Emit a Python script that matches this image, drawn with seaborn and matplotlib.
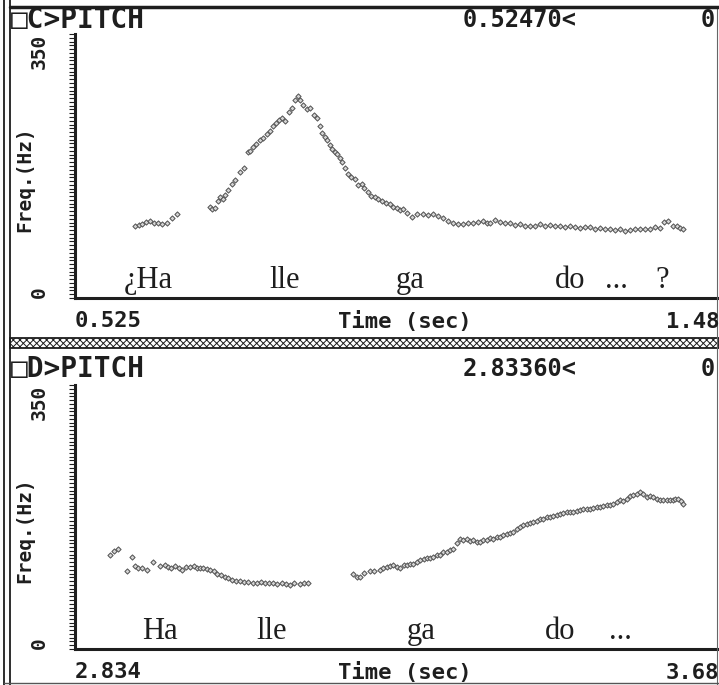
# Pitch tracks for "¿Ha llegado ...?" (C) and "Ha llegado ..." (D)
import pandas as pd
import matplotlib.pyplot as plt
import seaborn as sns
from matplotlib.ticker import MultipleLocator
from matplotlib.patches import Rectangle
from matplotlib.lines import Line2D

# ---------------------------------------------------------------- data
c_time = [0.612, 0.618, 0.622, 0.628, 0.634, 0.640, 0.646, 0.652, 0.659, 0.666, 0.673,
          0.721, 0.725, 0.729, 0.733, 0.736, 0.740, 0.743, 0.748, 0.753, 0.758, 0.765,
          0.771, 0.777, 0.780, 0.784, 0.789, 0.794, 0.799, 0.804, 0.808, 0.813, 0.818,
          0.822, 0.826, 0.830, 0.836, 0.841, 0.845, 0.849, 0.853, 0.857, 0.862, 0.867,
          0.872, 0.877, 0.881, 0.884, 0.888, 0.892, 0.896, 0.899, 0.903, 0.906, 0.910,
          0.913, 0.918, 0.922, 0.927, 0.932, 0.937, 0.942, 0.946, 0.951, 0.956, 0.961,
          0.966, 0.972, 0.977, 0.983, 0.988, 0.993, 0.998, 1.002, 1.008, 1.015, 1.022,
          1.031, 1.038, 1.046, 1.053, 1.060, 1.068, 1.075, 1.082, 1.089, 1.096, 1.104,
          1.111, 1.118, 1.124, 1.129, 1.136, 1.143, 1.150, 1.158, 1.165, 1.172, 1.180,
          1.187, 1.194, 1.201, 1.208, 1.216, 1.223, 1.230, 1.238, 1.245, 1.252, 1.260,
          1.267, 1.274, 1.281, 1.289, 1.296, 1.303, 1.310, 1.318, 1.325, 1.332, 1.340,
          1.347, 1.354, 1.361, 1.368, 1.376, 1.382, 1.388, 1.395, 1.401, 1.405, 1.409]
c_hz = [95, 97, 98, 101, 102, 100, 99, 98, 99, 106, 111,
        121, 118, 119, 128, 134, 131, 137, 143, 151, 156, 167,
        172, 193, 195, 200, 204, 209, 212, 217, 222, 228, 232,
        236, 239, 235, 246, 252, 262, 268, 262, 256, 251, 252,
        243, 239, 228, 219, 214, 210, 203, 198, 193, 191, 185,
        180, 172, 165, 160, 158, 150, 151, 146, 141, 135, 134,
        131, 128, 126, 124, 121, 119, 117, 118, 113, 108, 111,
        111, 110, 111, 109, 106, 102, 99, 98, 98, 100, 99,
        101, 102, 100, 99, 103, 101, 100, 99, 97, 98, 96,
        95, 96, 98, 96, 97, 95, 95, 94, 95, 94, 93,
        94, 94, 92, 93, 92, 91, 90, 91, 89, 90, 91,
        91, 92, 92, 94, 93, 101, 102, 96, 95, 93, 91]

d_time = [2.879, 2.884, 2.889, 2.901, 2.907, 2.912, 2.915, 2.921, 2.927, 2.935, 2.944,
          2.950, 2.954, 2.958, 2.963, 2.968, 2.972, 2.977, 2.982, 2.987, 2.991, 2.995,
          2.999, 3.004, 3.008, 3.013, 3.017, 3.022, 3.027, 3.031, 3.036, 3.042, 3.047,
          3.052, 3.057, 3.063, 3.069, 3.074, 3.079, 3.084, 3.089, 3.095, 3.101, 3.106,
          3.111, 3.117, 3.124, 3.129, 3.134,
          3.192, 3.197, 3.201, 3.207, 3.214, 3.220, 3.227, 3.231, 3.236, 3.240, 3.244,
          3.249, 3.253, 3.258, 3.262, 3.266, 3.270, 3.275, 3.279, 3.284, 3.288, 3.292,
          3.296, 3.301, 3.305, 3.309, 3.314, 3.318, 3.321, 3.326, 3.330, 3.334, 3.339,
          3.343, 3.347, 3.352, 3.356, 3.360, 3.365, 3.369, 3.373, 3.378, 3.382, 3.386,
          3.391, 3.395, 3.399, 3.404, 3.408, 3.412, 3.417, 3.421, 3.425, 3.430, 3.434,
          3.438, 3.443, 3.447, 3.450, 3.455, 3.459, 3.463, 3.468, 3.472, 3.476, 3.481,
          3.485, 3.489, 3.494, 3.498, 3.502, 3.507, 3.511, 3.515, 3.520, 3.524, 3.528,
          3.533, 3.537, 3.541, 3.546, 3.550, 3.553, 3.558, 3.562, 3.566, 3.571, 3.575,
          3.579, 3.584, 3.588, 3.592, 3.597, 3.601, 3.605, 3.608, 3.611, 3.615, 3.618]
d_hz = [125, 130, 132, 103, 122, 110, 107, 108, 105, 116, 110,
        112, 109, 107, 110, 108, 105, 109, 109, 110, 108, 107,
        107, 106, 105, 103, 100, 98, 96, 94, 92, 90, 90,
        89, 89, 88, 87, 89, 88, 87, 87, 86, 87, 86,
        85, 87, 86, 88, 87,
        99, 96, 96, 101, 103, 104, 105, 107, 109, 110, 111,
        109, 107, 112, 112, 113, 113, 116, 118, 119, 120, 121,
        122, 125, 125, 128, 129, 131, 132, 141, 146, 145, 146,
        143, 145, 142, 142, 144, 145, 147, 146, 148, 149, 151,
        153, 154, 155, 159, 162, 164, 166, 167, 168, 170, 172,
        173, 175, 175, 176, 178, 179, 180, 182, 181, 182, 183,
        184, 185, 186, 186, 187, 188, 188, 190, 191, 191, 192,
        195, 197, 196, 199, 203, 204, 206, 208, 205, 201, 203,
        201, 199, 197, 198, 197, 198, 198, 199, 199, 196, 192]

c_syllables = ['¿Ha', 'lle', 'ga', 'do', '...', '?']
c_syl_time = [0.632, 0.830, 1.012, 1.245, 1.312, 1.379]
d_syllables = ['Ha', 'lle', 'ga', 'do', '...']
d_syl_time = [2.944, 3.088, 3.281, 3.459, 3.537]

c_range = (0.525, 1.485)
d_range = (2.834, 3.685)
freq_range = (0, 350)

# ---------------------------------------------------------------- plot
sns.set_style('white')
plt.rcParams['hatch.linewidth'] = 0.7
MONO = 'DejaVu Sans Mono'
INK = '#1e1e1e'
W, H = 719, 685

fig = plt.figure(figsize=(W / 100, H / 100), dpi=100)


def fx(px):
    return px / W


def fy(py):
    return 1 - py / H


def hline(y, x0, x1, lw, color=INK):
    fig.add_artist(Line2D([fx(x0), fx(x1)], [fy(y), fy(y)], lw=lw, color=color,
                          transform=fig.transFigure))


def vline(x, y0, y1, lw, color=INK):
    fig.add_artist(Line2D([fx(x), fx(x)], [fy(y0), fy(y1)], lw=lw, color=color,
                          transform=fig.transFigure))


def panel(top, hy, t, hz, xr, syl, syl_t, name, cursor, lo_lab, hi_lab):
    ax = fig.add_axes([fx(75), fy(top + 264), fx(735) - fx(75), 264 / H])
    df = pd.DataFrame({'time': t, 'hz': hz})
    sns.scatterplot(data=df, x='time', y='hz', ax=ax, marker='D', s=7,
                    color='#d4d4d4', edgecolor='#505050', linewidth=0.7)
    ax.set_xlim(*xr)
    ax.set_ylim(*freq_range)
    ax.set_xlabel('')
    ax.set_ylabel('Freq.(Hz)', family=MONO, weight='bold', fontsize=14, color=INK)
    ax.yaxis.set_label_coords(-0.062, 0.45)
    for side in ['top', 'right']:
        ax.spines[side].set_visible(False)
    for side in ['left', 'bottom']:
        ax.spines[side].set_linewidth(2.2)
        ax.spines[side].set_color(INK)
    ax.set_xticks([])
    ax.set_yticks(list(freq_range))
    ax.set_yticklabels(['0', '350'], rotation=90, family=MONO, weight='bold',
                       fontsize=14, color=INK)
    ax.get_yticklabels()[0].set_va('bottom')
    ax.get_yticklabels()[1].set_va('top')
    ax.yaxis.set_minor_locator(MultipleLocator(5))
    ax.tick_params(axis='y', which='both', direction='out', length=4, width=0.8,
                   color=INK, pad=15, left=True)
    for s, st in zip(syl, syl_t):
        ax.text(st, 13, s, ha='center', va='baseline', family='Liberation Serif',
                fontsize=22, color=INK)
    ax.text(0, -0.088, lo_lab, transform=ax.transAxes, ha='left', va='center',
            family=MONO, weight='bold', fontsize=16, color=INK)
    ax.text(0.5, -0.088, 'Time (sec)', transform=ax.transAxes, ha='center', va='center',
            family=MONO, weight='bold', fontsize=16, color=INK)
    fig.text(1.0, fy(top + 264 + 24), hi_lab, ha='right', va='center',
             family=MONO, weight='bold', fontsize=16, color=INK)
    # header row
    fig.text(fx(11), fy(hy), name, ha='left', va='center', family=MONO,
             weight='bold', fontsize=20, color=INK)
    fig.text(fx(463), fy(hy), cursor, ha='left', va='center', family=MONO,
             weight='bold', fontsize=17, color=INK)
    fig.text(fx(701), fy(hy), '0', ha='left', va='center', family=MONO,
             weight='bold', fontsize=17, color=INK)
    return ax


panel(34, 20, c_time, c_hz, c_range, c_syllables, c_syl_time,
      '□C>PITCH', '0.52470<', '0.525', '1.48')
panel(385, 369, d_time, d_hz, d_range, d_syllables, d_syl_time,
      '□D>PITCH', '2.83360<', '2.834', '3.68')

# frame of the screen dump
vline(4, 0, H, 1.3)
vline(10, 0, H, 1.3)
vline(717, 7, H, 0.8, '#666666')
hline(7, 10, W, 2.5)
hline(683, 4, W, 1.0, '#555555')
fig.add_artist(Rectangle((fx(10), fy(348)), fx(W) - fx(10), 10 / H,
                         transform=fig.transFigure, facecolor='white',
                         edgecolor=INK, hatch='xxxxx', lw=1.3))

plt.savefig('out.png', dpi=100)
